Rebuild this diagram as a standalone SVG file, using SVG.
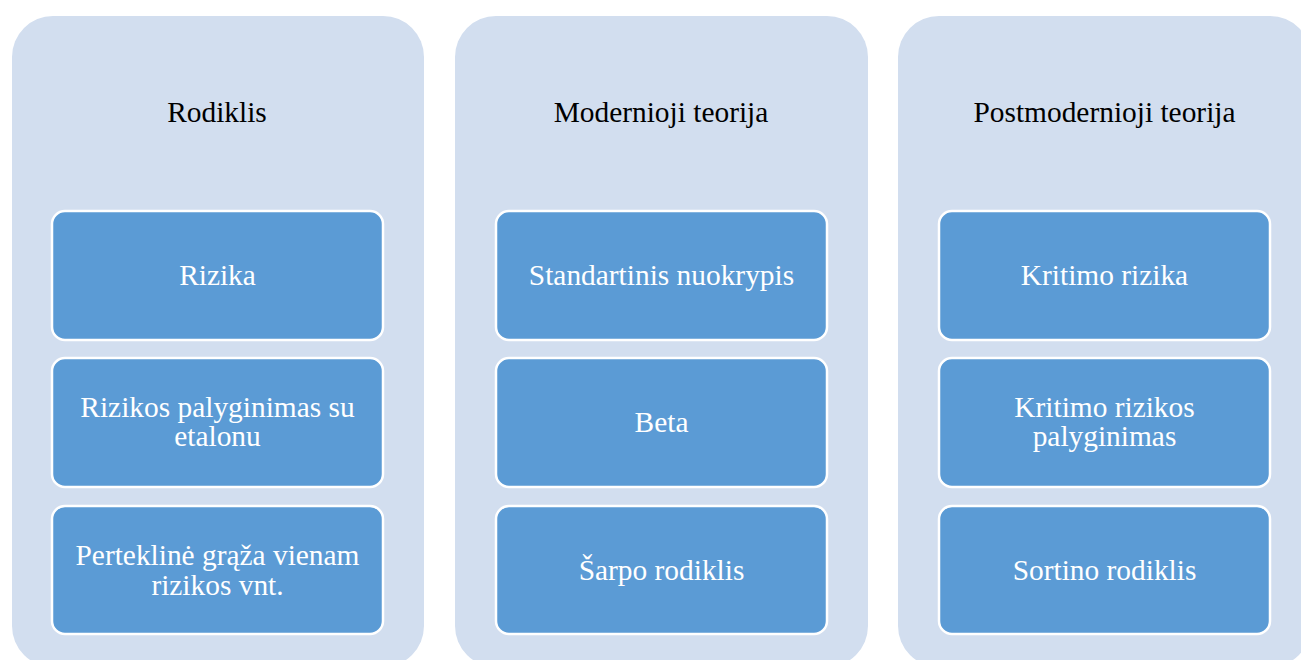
<svg xmlns="http://www.w3.org/2000/svg" width="1301" height="660" viewBox="0 0 1301 660">
<style>
.col{fill:#D2DEEF;}
.box{fill:#5B9BD5;stroke:#FFFFFF;stroke-width:2.5;}
.hdr{font-family:"Liberation Serif","Times New Roman",serif;font-size:29.4px;fill:#000000;text-anchor:middle;}
.lbl{font-family:"Liberation Serif","Times New Roman",serif;font-size:29.4px;fill:#FFFFFF;text-anchor:middle;}
</style>
<g id="col-rodiklis">
<rect class="col" x="12" y="16" width="412" height="651" rx="41" ry="41"/>
<text class="hdr" x="217" y="122">Rodiklis</text>
</g>
<g id="col-modernioji">
<rect class="col" x="455" y="16" width="413" height="651" rx="41" ry="41"/>
<text class="hdr" x="661" y="122">Modernioji teorija</text>
</g>
<g id="col-postmodernioji">
<rect class="col" x="898" y="16" width="413" height="651" rx="41" ry="41"/>
<text class="hdr" x="1104.5" y="122">Postmodernioji teorija</text>
</g>
<g id="connectors"></g>
<g id="n-rizika">
<rect class="box" x="52" y="211" width="331" height="129" rx="13" ry="13"/>
<text class="lbl" x="217.5" y="285">Rizika</text>
</g>
<g id="n-rizikos-palyginimas">
<rect class="box" x="52" y="358" width="331" height="129" rx="13" ry="13"/>
<text class="lbl" x="217.5" y="417">Rizikos palyginimas su</text>
<text class="lbl" x="217.5" y="446">etalonu</text>
</g>
<g id="n-perteklin">
<rect class="box" x="52" y="506" width="331" height="128" rx="13" ry="13"/>
<text class="lbl" x="217.5" y="565">Perteklinė grąža vienam</text>
<text class="lbl" x="217.5" y="595">rizikos vnt.</text>
</g>
<g id="n-standartinis">
<rect class="box" x="496" y="211" width="331" height="129" rx="13" ry="13"/>
<text class="lbl" x="661.5" y="285">Standartinis nuokrypis</text>
</g>
<g id="n-beta">
<rect class="box" x="496" y="358" width="331" height="129" rx="13" ry="13"/>
<text class="lbl" x="661.5" y="432">Beta</text>
</g>
<g id="n-sarpo">
<rect class="box" x="496" y="506" width="331" height="128" rx="13" ry="13"/>
<text class="lbl" x="661.5" y="580">Šarpo rodiklis</text>
</g>
<g id="n-kritimo-rizika">
<rect class="box" x="939" y="211" width="331" height="129" rx="13" ry="13"/>
<text class="lbl" x="1104.5" y="285">Kritimo rizika</text>
</g>
<g id="n-kritimo-palyginimas">
<rect class="box" x="939" y="358" width="331" height="129" rx="13" ry="13"/>
<text class="lbl" x="1104.5" y="417">Kritimo rizikos</text>
<text class="lbl" x="1104.5" y="446">palyginimas</text>
</g>
<g id="n-sortino">
<rect class="box" x="939" y="506" width="331" height="128" rx="13" ry="13"/>
<text class="lbl" x="1104.5" y="580">Sortino rodiklis</text>
</g>
</svg>
